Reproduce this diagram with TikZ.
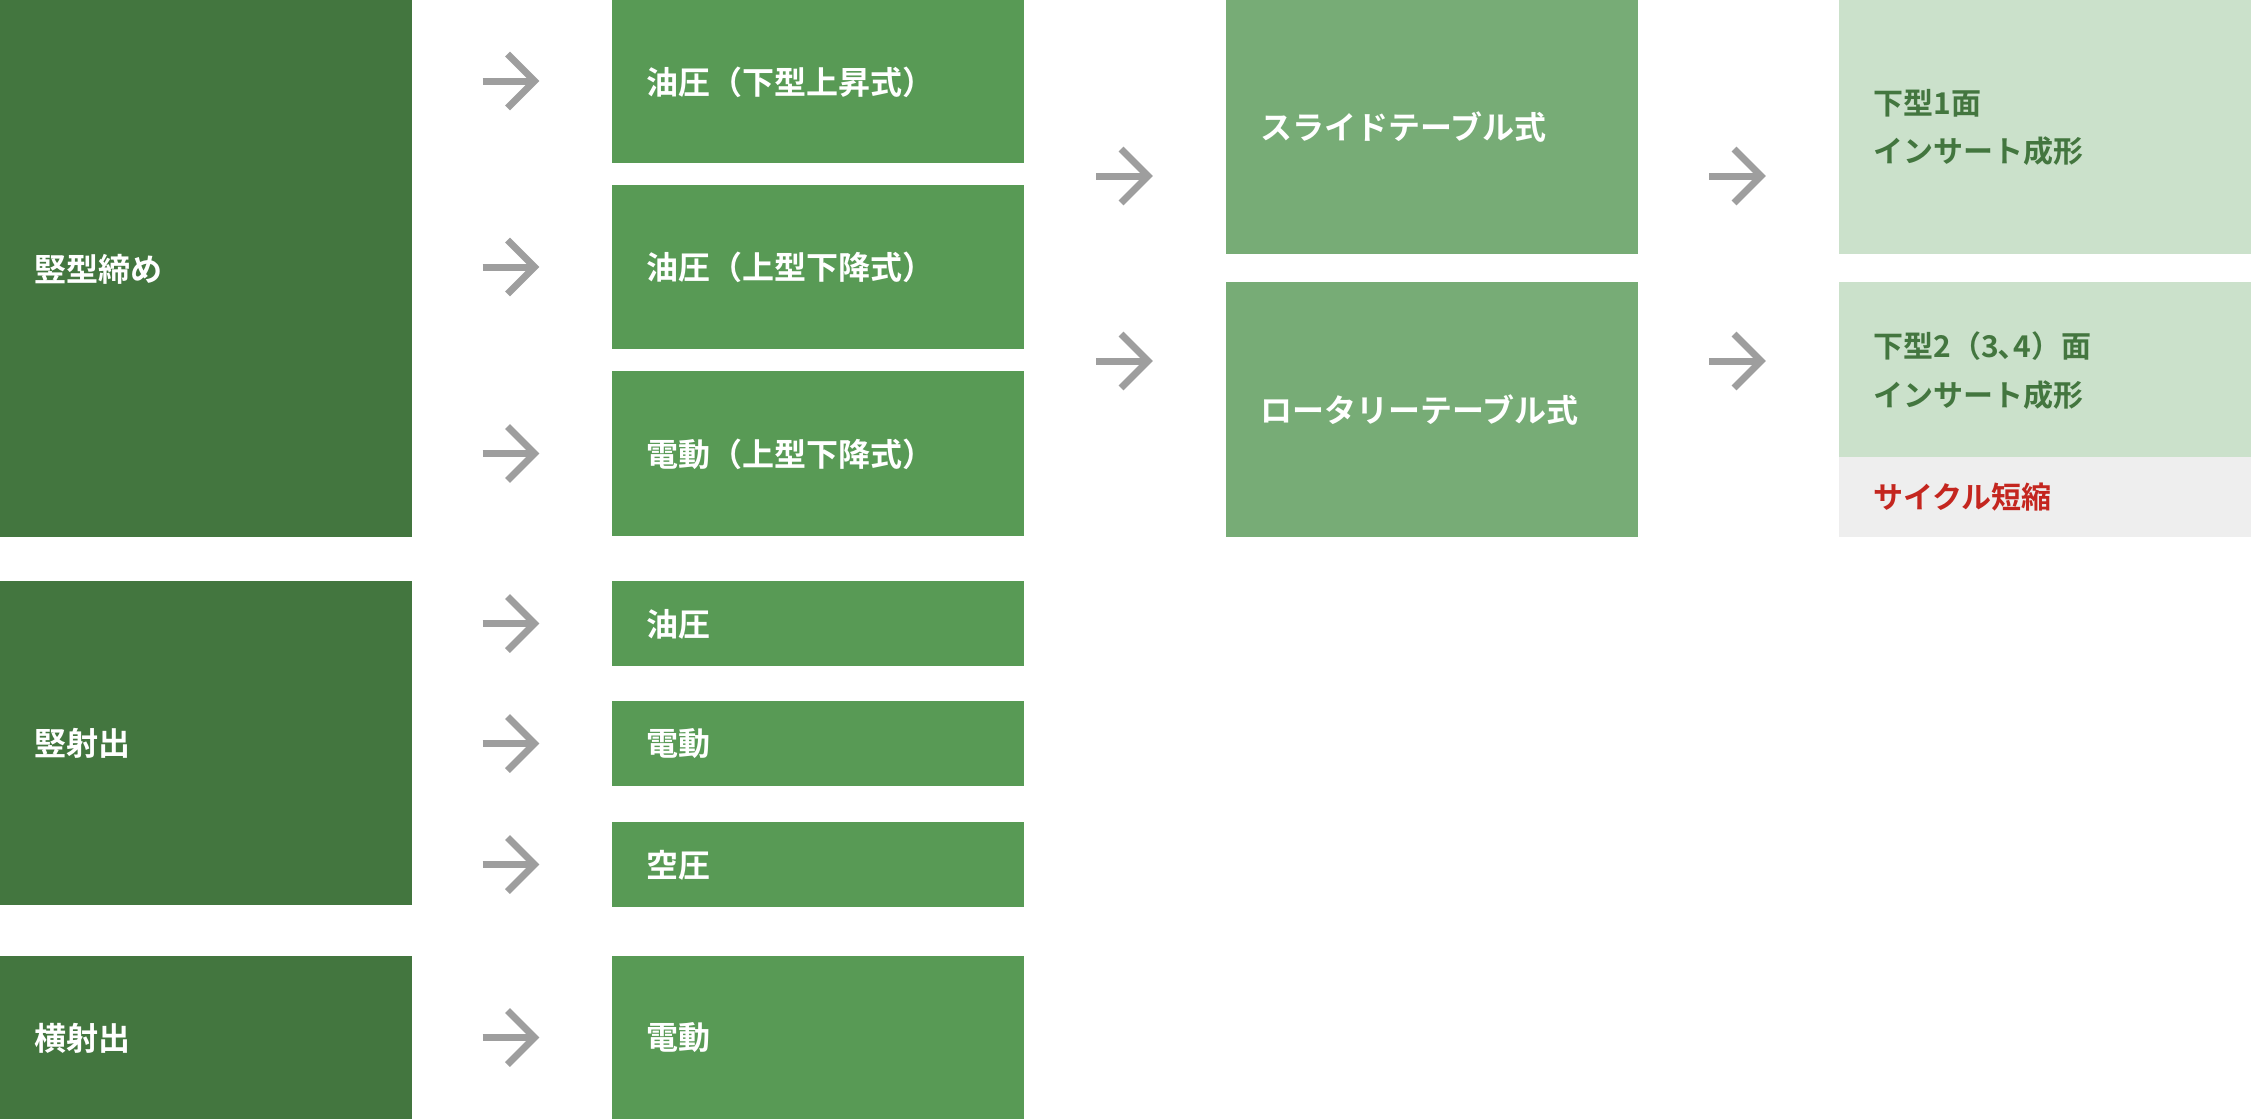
\documentclass[tikz,border=0pt]{standalone}
\usepackage{fontspec}
\setmainfont{Noto Sans CJK JP}[BoldFont={Noto Sans CJK JP Bold}]
\definecolor{gdark}{HTML}{43763F}
\definecolor{gmid}{HTML}{589A55}
\definecolor{glight}{HTML}{77AC76}
\definecolor{gpale}{HTML}{CBE1CB}
\definecolor{greybox}{HTML}{EEEEEE}
\definecolor{arrowgrey}{HTML}{9E9E9E}
\definecolor{redtxt}{HTML}{C4261F}
\def\u{0.5pt}
\tikzset{
  box/.style 2 args={rectangle, anchor=north west, inner xsep=17pt, inner ysep=0pt,
    minimum width=#1*\u, minimum height=#2*\u, text width=172pt, align=left,
    font=\bfseries\fontsize{16pt}{24.3pt}\selectfont},
  darkbox/.style={fill=gdark, text=white},
  midbox/.style={fill=gmid, text=white},
  lightbox/.style={fill=glight, text=white},
  palebox/.style={fill=gpale, text=gdark, font=\bfseries\fontsize{15pt}{24.3pt}\selectfont},
  greyfill/.style={fill=greybox, text=redtxt, font=\bfseries\fontsize{15pt}{24.3pt}\selectfont},
  gline/.style={draw=arrowgrey, line width=3.5pt, line cap=butt, line join=miter},
}
\newcommand{\grayarrow}[3]{%
  \coordinate (#1s) at (#2-29,#3);
  \coordinate (#1e) at (#2+23,#3);
  \draw[gline] (#1s) -- (#1e);
  \draw[gline] ([shift={(-27,-27)}]#1e) -- (#1e) -- ([shift={(-27,27)}]#1e);
}
\begin{document}
\begin{tikzpicture}[x=0.5pt,y=-0.5pt]
\useasboundingbox (0,0) rectangle (2251,1119);
% column 1
\node[box={411}{537}, darkbox] (A1) at (0,0) {竪型締め};
\node[box={411}{324}, darkbox] (A2) at (0,581) {竪射出};
\node[box={411}{163}, darkbox] (A3) at (0,956) {横射出};
% column 2
\node[box={412}{163}, midbox] (B1) at (612,0) {油圧（下型上昇式）};
\node[box={412}{164}, midbox] (B2) at (612,185) {油圧（上型下降式）};
\node[box={412}{165}, midbox] (B3) at (612,371) {電動（上型下降式）};
\node[box={412}{85}, midbox] (B4) at (612,581) {油圧};
\node[box={412}{85}, midbox] (B5) at (612,701) {電動};
\node[box={412}{85}, midbox] (B6) at (612,822) {空圧};
\node[box={412}{163}, midbox] (B7) at (612,956) {電動};
% column 3
\node[box={411}{254}, lightbox] (C1) at (1226,0) {スライドテーブル式};
\node[box={411}{255}, lightbox] (C2) at (1226,282) {ロータリーテーブル式};
% column 4
\node[box={412}{254}, palebox] (D1) at (1839,0) {下型1面\\インサート成形};
\node[box={412}{176}, palebox] (D2) at (1839,282) {下型2（3､4）面\\インサート成形};
\node[box={412}{80}, greyfill] (D3) at (1839,457) {サイクル短縮};
% arrows
\grayarrow{a1}{511.5}{81}
\grayarrow{a2}{511.5}{267}
\grayarrow{a3}{511.5}{453.5}
\grayarrow{a4}{511.5}{623.5}
\grayarrow{a5}{511.5}{743.5}
\grayarrow{a6}{511.5}{864.5}
\grayarrow{a7}{511.5}{1037.5}
\grayarrow{b1}{1125}{176}
\grayarrow{b2}{1125}{361}
\grayarrow{c1}{1738}{176}
\grayarrow{c2}{1738}{361}
\end{tikzpicture}
\end{document}
